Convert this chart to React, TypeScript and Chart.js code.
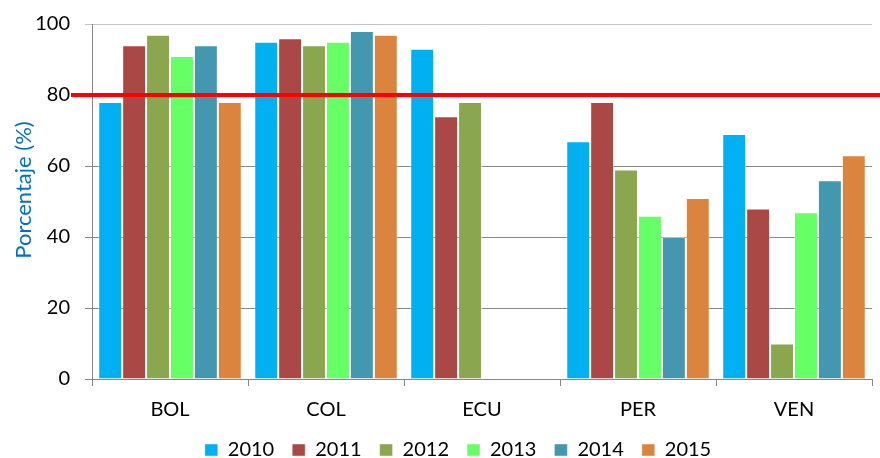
import React, { useEffect, useRef } from 'react';
import { Chart, registerables } from 'chart.js';

Chart.register(...registerables);

const categories = ['BOL', 'COL', 'ECU', 'PER', 'VEN'];
const years = ['2010', '2011', '2012', '2013', '2014', '2015'];
const v2010 = [78, 95, 93, 67, 69];
const v2011 = [94, 96, 74, 78, 48];
const v2012 = [97, 94, 78, 59, 10];
const v2013 = [91, 95, null, 46, 47];
const v2014 = [94, 98, null, 40, 56];
const v2015 = [78, 97, null, 51, 63];
const seriesValues = [v2010, v2011, v2012, v2013, v2014, v2015];
const seriesColors = ['#00B0F0', '#AA4846', '#8AA64E', '#66FF66', '#4397AE', '#DB843D'];
const yTickValues = [0, 20, 40, 60, 80, 100];
const thresholdValue = 80;
const yTitle = 'Porcentaje (%)';

const FONT = 'Lato';

const extras = {
  id: 'extras',
  afterLayout(chart: any) {
    const lg = chart.legend;
    if (lg) {
      lg.left += 22;
      lg.right += 22;
      lg.top += 12;
      lg.bottom += 12;
    }
    const xs = chart.scales.x;
    if (xs) xs.bottom += 14;
  },
  afterDatasetsDraw(chart: any) {
    const ctx = chart.ctx;
    const y = chart.scales.y.getPixelForValue(thresholdValue);
    ctx.save();
    ctx.strokeStyle = '#FF0000';
    ctx.lineWidth = 4;
    ctx.beginPath();
    ctx.moveTo(chart.chartArea.left - 21, y);
    ctx.lineTo(chart.width, y);
    ctx.stroke();
    ctx.restore();
  },
  afterDraw(chart: any) {
    const ctx = chart.ctx;
    ctx.save();
    ctx.translate(24, 190);
    ctx.rotate(-Math.PI / 2);
    ctx.font = `22px ${FONT}`;
    ctx.fillStyle = '#0070C0';
    ctx.textAlign = 'center';
    ctx.textBaseline = 'middle';
    ctx.fillText(yTitle, 0, 0);
    ctx.restore();
  },
};

export default function App() {
  const ref = useRef<HTMLCanvasElement>(null);
  useEffect(() => {
    if (!ref.current) return;
    const chart = new Chart(ref.current, {
      type: 'bar',
      data: {
        labels: categories,
        datasets: years.map((yr, i) => ({
          label: yr,
          data: seriesValues[i],
          backgroundColor: seriesColors[i],
          borderColor: 'rgba(255,255,255,0.45)',
          borderWidth: 1,
          categoryPercentage: 0.92,
          barPercentage: 1,
        })),
      },
      options: {
        responsive: false,
        animation: false,
        layout: { padding: { top: 24, right: 8, left: 0, bottom: 0 } },
        plugins: {
          tooltip: { enabled: false },
          legend: {
            position: 'bottom',
            labels: {
              font: { family: FONT, size: 20 },
              color: '#000',
              boxWidth: 13,
              boxHeight: 12,
              padding: 18,
            },
          },
        },
        scales: {
          x: {
            grid: {
              display: true,
              drawOnChartArea: false,
              drawTicks: true,
              tickLength: 7,
              color: '#878787',
              offset: true,
            },
            border: { color: '#878787', width: 1 },
            ticks: { font: { family: FONT, size: 20 }, color: '#000', padding: 12 },
            afterFit: (s: any) => { s.height = 31; },
          },
          y: {
            min: 0,
            max: 100,
            afterBuildTicks: (s: any) => { s.ticks = yTickValues.map((v) => ({ value: v })); },
            grid: {
              color: (c: any) => (c.tick && c.tick.value === 100 ? '#C4C4C4' : '#878787'),
              tickLength: 7,
            },
            border: { color: '#878787', width: 1 },
            ticks: { font: { family: FONT, size: 20 }, color: '#000', padding: 15 },
            afterFit: (s: any) => { s.width = 92; s.paddingTop = 0; s.paddingBottom = 0; },
          },
        },
      },
      plugins: [extras],
    });
    return () => chart.destroy();
  }, []);
  return (
    <div style={{ position: 'fixed', left: 0, top: 0, width: 880, height: 458, background: '#fff' }}>
      <canvas ref={ref} width={880} height={458} />
    </div>
  );
}
